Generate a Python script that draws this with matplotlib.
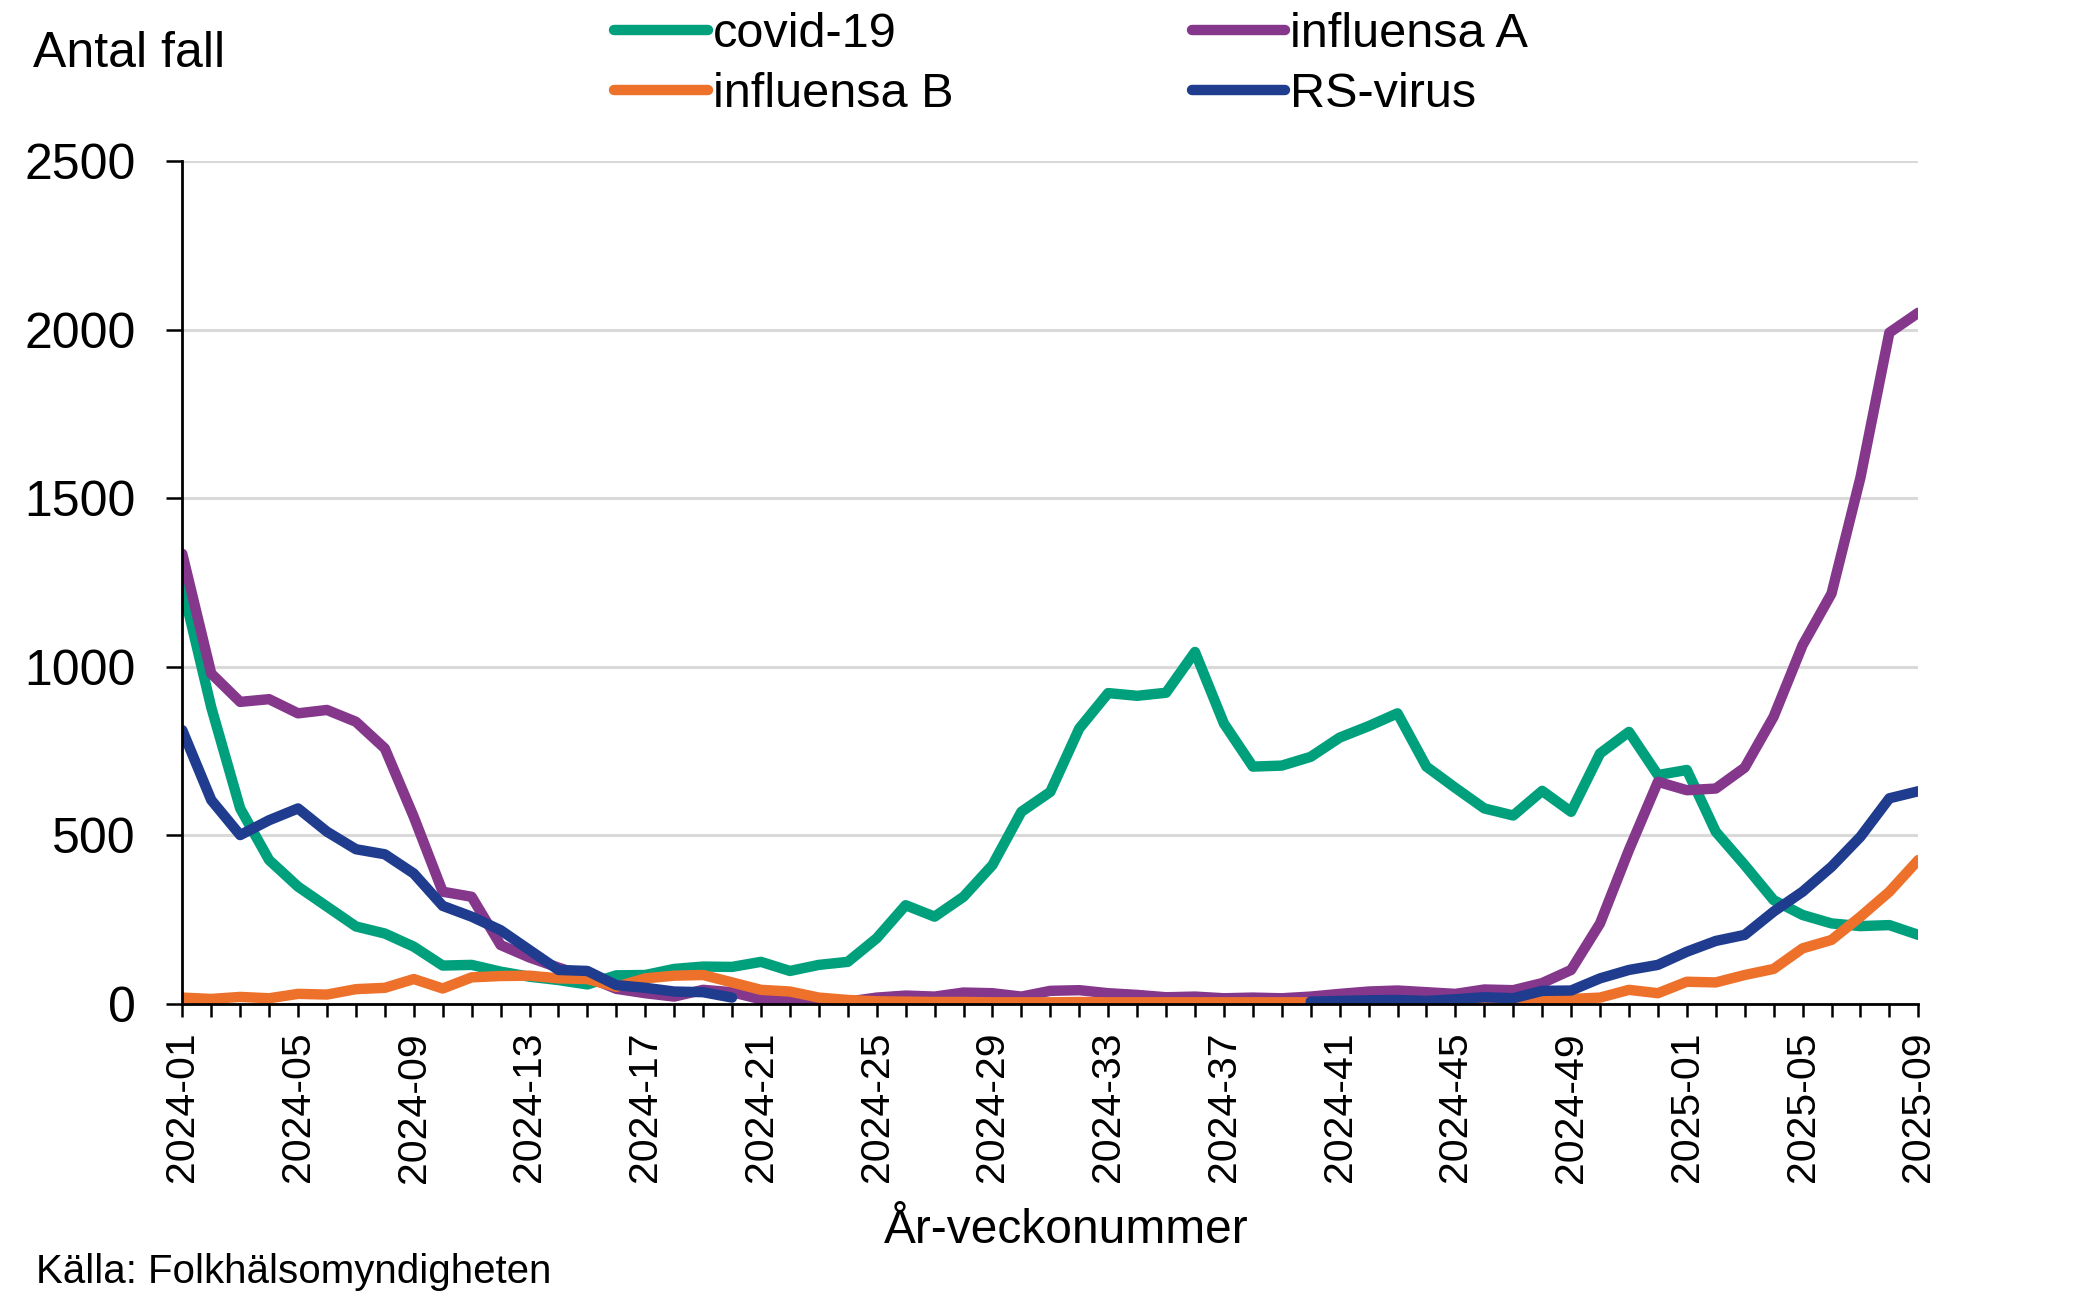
import numpy as np
import matplotlib
matplotlib.use("Agg")
import matplotlib.pyplot as plt

plt.rcParams['font.family'] = ['Liberation Sans', 'DejaVu Sans']

#===DATA=======================================================================
# week labels: 2024-01 .. 2024-52, 2025-01 .. 2025-09
weeks = [f"2024-{w:02d}" for w in range(1, 53)] + [f"2025-{w:02d}" for w in range(1, 10)]

covid = [1240, 880, 580, 427, 348, 289, 230, 209, 170, 114,
         116, 96, 81, 71, 58, 85, 86, 104, 111, 110,
         125, 98, 116, 125, 195, 293, 259, 318, 412, 570,
         629, 817, 922, 914, 923, 1044, 832, 704, 707, 733,
         790, 824, 862, 704, 641, 580, 559, 632, 570, 743,
         807, 679, 694, 511, 412, 308, 264, 239, 231, 234,
         205]

infl_a = [1335, 980, 896, 904, 862, 872, 837, 758, 555, 333,
          318, 175, 138, 108, 80, 45, 32, 22, 42, 35,
          14, 12, 2, 7, 19, 25, 22, 34, 32, 22,
          39, 41, 32, 27, 20, 22, 17, 19, 17, 22,
          30, 37, 40, 35, 30, 43, 41, 62, 101, 239,
          457, 659, 634, 639, 701, 852, 1064, 1217, 1561, 1991,
          2050]

infl_b = [19, 15, 21, 17, 30, 28, 44, 48, 74, 46,
          79, 83, 84, 76, 74, 51, 76, 84, 86, 64,
          42, 37, 19, 12, 8, 7, 6, 6, 5, 5,
          5, 6, 5, 5, 5, 5, 5, 5, 5, 5,
          5, 5, 5, 5, 5, 4, 4, 12, 15, 19,
          42, 32, 66, 64, 86, 104, 165, 190, 259, 333,
          427]

nan = np.nan
rsv = [812, 605, 501, 545, 580, 511, 459, 444, 387, 291,
       259, 219, 160, 101, 98, 56, 48, 37, 35, 19,
       nan, nan, nan, nan, nan, nan, nan, nan, nan, nan,
       nan, nan, nan, nan, nan, nan, nan, nan, nan, 7,
       9, 11, 12, 9, 14, 20, 17, 39, 40, 76,
       101, 116, 155, 187, 205, 274, 333, 407, 496, 610,
       631]

series = [
    ('covid-19', covid, '#00A07D'),
    ('influensa A', infl_a, '#84378B'),
    ('influensa B', infl_b, '#EE712B'),
    ('RS-virus', rsv, '#1F3C8F'),
]

y_ticks = [0, 500, 1000, 1500, 2000, 2500]

#===PLOT=======================================================================
W, H = 2079, 1300
fig = plt.figure(figsize=(W / 100, H / 100), dpi=100)
ax = fig.add_axes([182.3 / W, 1 - 1004 / H, (1918.3 - 182.3) / W, (1004 - 161) / H])

x = np.arange(len(weeks))
lines = {}
for name, vals, col in series:
    ln, = ax.plot(x, vals, color=col, lw=7.5, label=name,
                  solid_capstyle='round', solid_joinstyle='round')
    lines[name] = ln

ax.set_xlim(0, len(weeks) - 1)
ax.set_ylim(0, 2500)
ax.set_yticks(y_ticks)
ax.set_yticklabels([str(v) for v in y_ticks])
ax.set_xticks(x)
ax.set_xticklabels([w if i % 4 == 0 else '' for i, w in enumerate(weeks)], rotation=90)

ax.grid(axis='y', color='#D9D9D9', lw=2.2)
ax.set_axisbelow(True)
for s in ['top', 'right']:
    ax.spines[s].set_visible(False)
for s in ['left', 'bottom']:
    ax.spines[s].set_linewidth(2.0)
    ax.spines[s].set_color('black')

ax.tick_params(axis='y', which='major', direction='out', length=11.5, width=1.8,
               pad=22, labelsize=36)
ax.tick_params(axis='x', which='major', direction='out', length=9, width=1.8,
               pad=11, labelsize=29.5)

fig.text(33 / W, 1 - 67 / H, 'Antal fall', fontsize=36, va='baseline', ha='left')
fig.text(1066 / W, 1 - 1243 / H, 'År-veckonummer', fontsize=34.5, va='baseline', ha='center')
fig.text(36 / W, 1 - 1283 / H, 'Källa: Folkhälsomyndigheten', fontsize=29, va='baseline', ha='left')

order = ['covid-19', 'influensa B', 'influensa A', 'RS-virus']
fig.legend([lines[n] for n in order], order, ncol=2, loc='upper left',
           bbox_to_anchor=(614 / W, 1 - 12 / H), frameon=False, fontsize=35,
           handlelength=1.93, handletextpad=0.1, columnspacing=4.9,
           labelspacing=0.3, borderpad=0, borderaxespad=0)

fig.savefig('out.png', dpi=100)
